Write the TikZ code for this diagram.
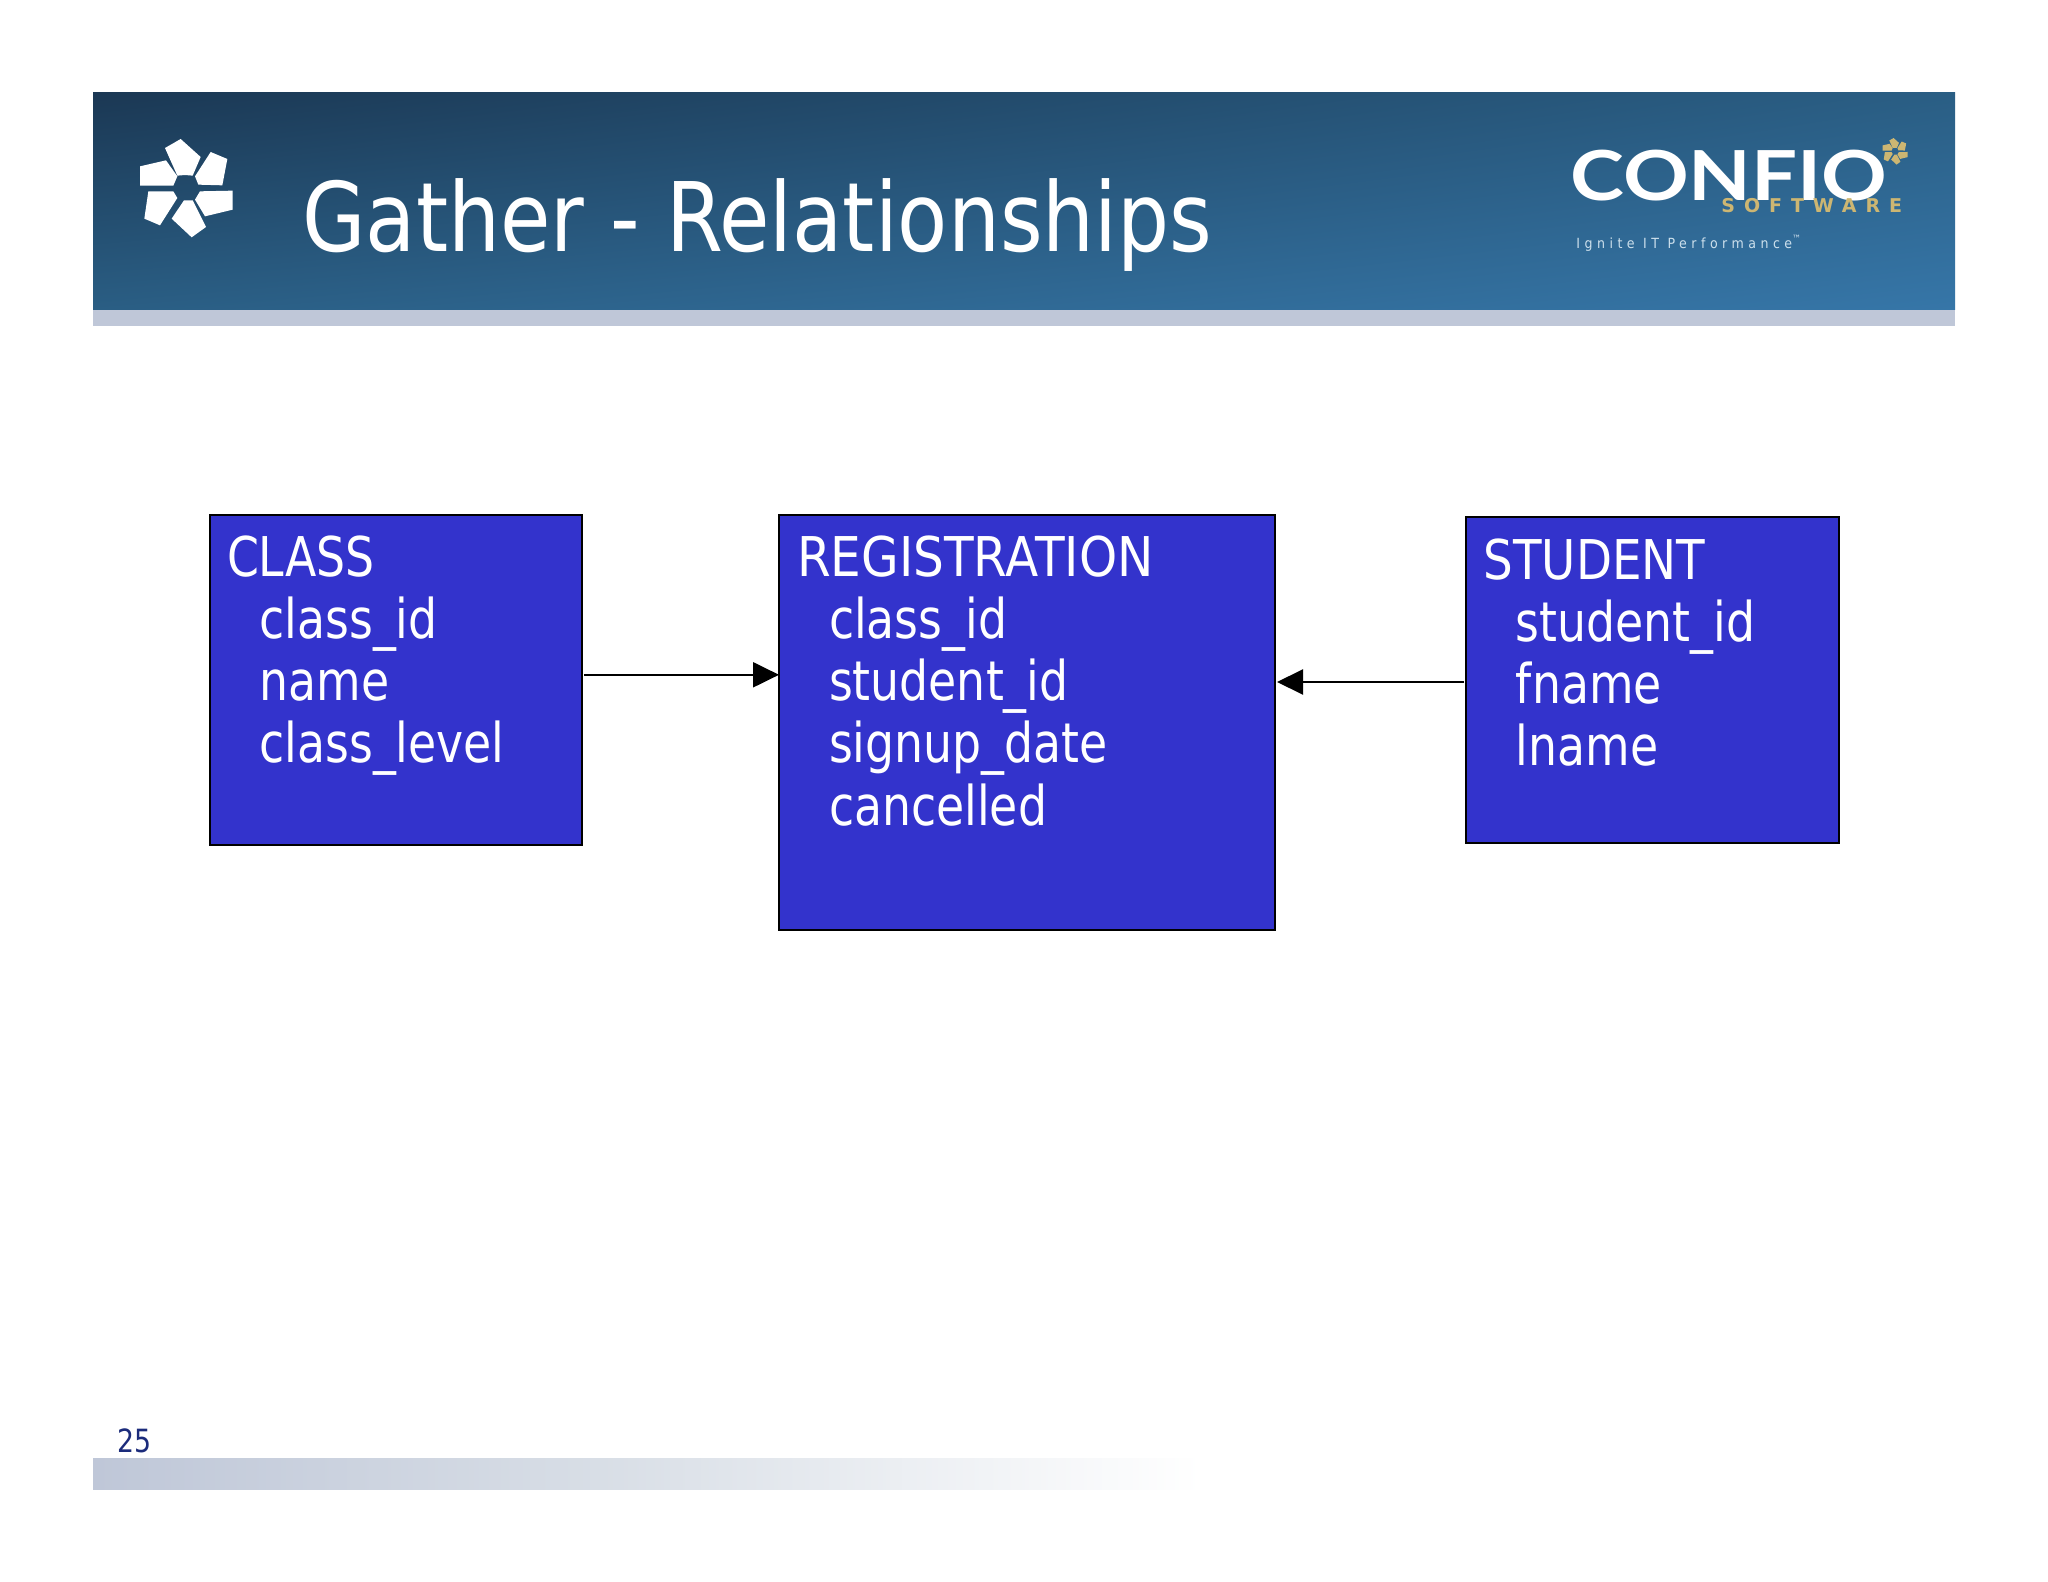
\documentclass[tikz,border=0pt]{standalone}
\usepackage{fontspec}
\usetikzlibrary{arrows.meta,shadings}
\setmainfont{DejaVu Sans}[FakeStretch=0.835]
\newfontfamily\titlefont{DejaVu Sans}[FakeStretch=0.854]
\newfontfamily\regfont{DejaVu Sans}[FakeStretch=0.886]
\newfontfamily\logofont{Lato}[FakeStretch=1.18]
\newfontfamily\softfont{DejaVu Sans}[LetterSpace=47]
\newfontfamily\ignitefont{DejaVu Sans}[LetterSpace=32,FakeStretch=0.9]
\definecolor{boxblue}{HTML}{3333CC}
\definecolor{gold}{HTML}{CDB672}
\definecolor{barlight}{HTML}{BFC7D8}
\definecolor{barmid}{HTML}{D8DEE6}
\definecolor{pagenum}{HTML}{1B2B7B}
\definecolor{headUL}{RGB}{27,56,84}
\definecolor{headUR}{RGB}{42,94,132}
\definecolor{headLL}{RGB}{42,94,132}
\definecolor{headLR}{RGB}{54,118,168}
\definecolor{ignitecol}{RGB}{205,224,236}
\tikzset{
  erbox/.style={draw=black,line width=1pt,fill=boxblue,inner sep=0pt,outer sep=0pt,anchor=north west},
  ertext/.style={text=white,anchor=north west,align=left,inner sep=0pt,outer sep=0pt,font=\fontsize{27.4}{31.1}\selectfont},
  link/.style={draw=black,line width=1.1pt,-{Triangle[length=13pt,width=12.5pt]}}
}
\newcommand{\flower}[4]{%
  \begin{scope}[shift={(#1,#2)},x=#3*0.5pt/3,y=-#3*0.5pt/3]
    \fill[#4] (-63,-117)--(-16,-144)--(44,-90)--(20,-34)--(-3,-36)--(-26,-34)--cycle;
    \fill[#4] (27,-32)--(74,-105)--(124,-84)--(109,-5)--(37,-7)--cycle;
    \fill[#4] (27,38)--(42,13)--(140,11)--(140,68)--(57,88)--cycle;
    \fill[#4] (-43,95)--(-6,40)--(20,40)--(60,120)--(17,151)--cycle;
    \fill[#4] (-113,13)--(-38,13)--(-26,33)--(-78,115)--(-125,95)--cycle;
    \fill[#4] (-138,-62)--(-60,-80)--(-26,-32)--(-38,-4)--(-138,-4)--cycle;
  \end{scope}}
\begin{document}
\begin{tikzpicture}[x=0.5pt,y=-0.5pt]
\useasboundingbox (0,0) rectangle (2048,1582);
\fill[white] (0,0) rectangle (2048,1582);
% header
\shade[upper left=headUL,upper right=headUR,lower left=headLL,lower right=headLR] (93,93) rectangle (1955,310);
\fill[barlight] (93,310) rectangle (1955,326);
\flower{186}{187}{1}{white}
\node[anchor=base west,inner sep=0pt,text=white,font=\titlefont\fontsize{48}{48}\selectfont] (title) at (302,252) {Gather - Relationships};
% logo
\node[anchor=base west,inner sep=0pt,text=white,font=\logofont\bfseries\fontsize{34.5}{36}\selectfont] (logo) at (1570,201) {CONFIO};
\node[anchor=base west,inner sep=0pt,text=gold,font=\softfont\bfseries\fontsize{9.5}{10}\selectfont] (soft) at (1721,213) {SOFTWARE};
\node[anchor=base west,inner sep=0pt,text=ignitecol,font=\ignitefont\fontsize{7}{7}\selectfont] (ignite) at (1576,249) {Ignite IT Performance\textsuperscript{™}};
\flower{1895}{151}{0.27}{gold}
% boxes
\node[erbox,minimum width=186.4pt,minimum height=165pt] (class) at (209.5,515) {};
\node[erbox,minimum width=248pt,minimum height=207.5pt] (reg) at (779,515) {};
\node[erbox,minimum width=186.7pt,minimum height=163pt] (student) at (1466,517) {};
\node[ertext] (classtext) at (227,535.7) {CLASS\\\hspace*{16.2pt}class\_id\\\hspace*{16.2pt}name\\\hspace*{16.2pt}class\_level};
\node[ertext] (regtext) at (797,535.7) {{\regfont REGISTRATION}\\\hspace*{16pt}class\_id\\\hspace*{16pt}student\_id\\\hspace*{16pt}signup\_date\\\hspace*{16pt}cancelled};
\node[ertext] (studenttext) at (1483.5,538.7) {{\titlefont STUDENT}\\\hspace*{16.2pt}student\_id\\\hspace*{16.2pt}fname\\\hspace*{16.2pt}lname};
% connectors
\coordinate (a1) at ([xshift=1pt,yshift=2.6pt]class.east);
\coordinate (a2) at (a1 -| reg.west);
\draw[link] (a1) -- (a2);
\coordinate (b1) at ([xshift=-1pt,yshift=-1pt]student.west);
\coordinate (b2) at ([xshift=1pt]b1 -| reg.east);
\draw[link] (b1) -- (b2);
% footer
\shade[left color=barlight,right color=barmid] (93,1458) rectangle (600,1489);
\shade[left color=barmid,right color=white] (600,1458) rectangle (1202,1489);
\node[anchor=base west,inner sep=0pt,text=pagenum,font=\fontsize{16}{16}\selectfont] (page) at (117.5,1452) {25};
\end{tikzpicture}
\end{document}
